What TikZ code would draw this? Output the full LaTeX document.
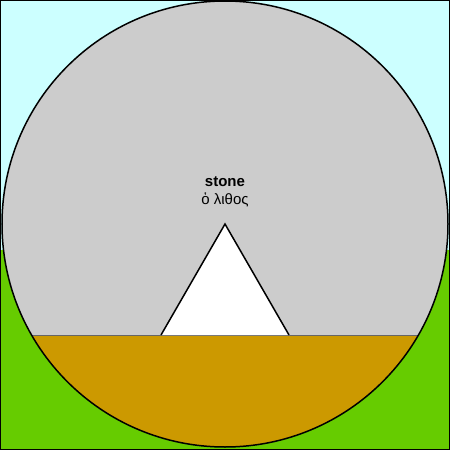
\documentclass[tikz,border=0pt]{standalone}
\usepackage{fontspec}
\setmainfont{Liberation Sans}
\definecolor{sky}{HTML}{CCFFFF}
\definecolor{grass}{HTML}{66CC00}
\definecolor{stonegrey}{HTML}{CCCCCC}
\definecolor{earth}{HTML}{CC9900}
\tikzset{outline/.style={draw=black, line width=1.5pt}}
\begin{document}
\begin{tikzpicture}[x=1pt,y=-1pt]
\useasboundingbox (0,0) rectangle (450,450);
\fill[sky] (0,0) rectangle (450,250);
\fill[grass] (0,250) rectangle (450,450);
\coordinate (c) at (225,224);
\fill[stonegrey] (c) circle[radius=223];
\begin{scope}
\clip (c) circle[radius=223];
\fill[earth] (0,335) rectangle (450,450);
\end{scope}
\draw[draw=black!60, line width=0.8pt] (31.6,335) -- (418.4,335);
\draw[outline, fill=white] (161,335) -- (225,224) -- (289,335);
\draw[outline] (c) circle[radius=223];
\node[font=\fontsize{15}{17}\selectfont\bfseries] (t1) at (225,182) {stone};
\node[font=\fontsize{15}{17}\selectfont] (t2) at (225,199.5) {ὁ λιθος};
\draw[black, line width=1.3pt] (0.65,0.65) rectangle (449.35,449.35);
\end{tikzpicture}
\end{document}
